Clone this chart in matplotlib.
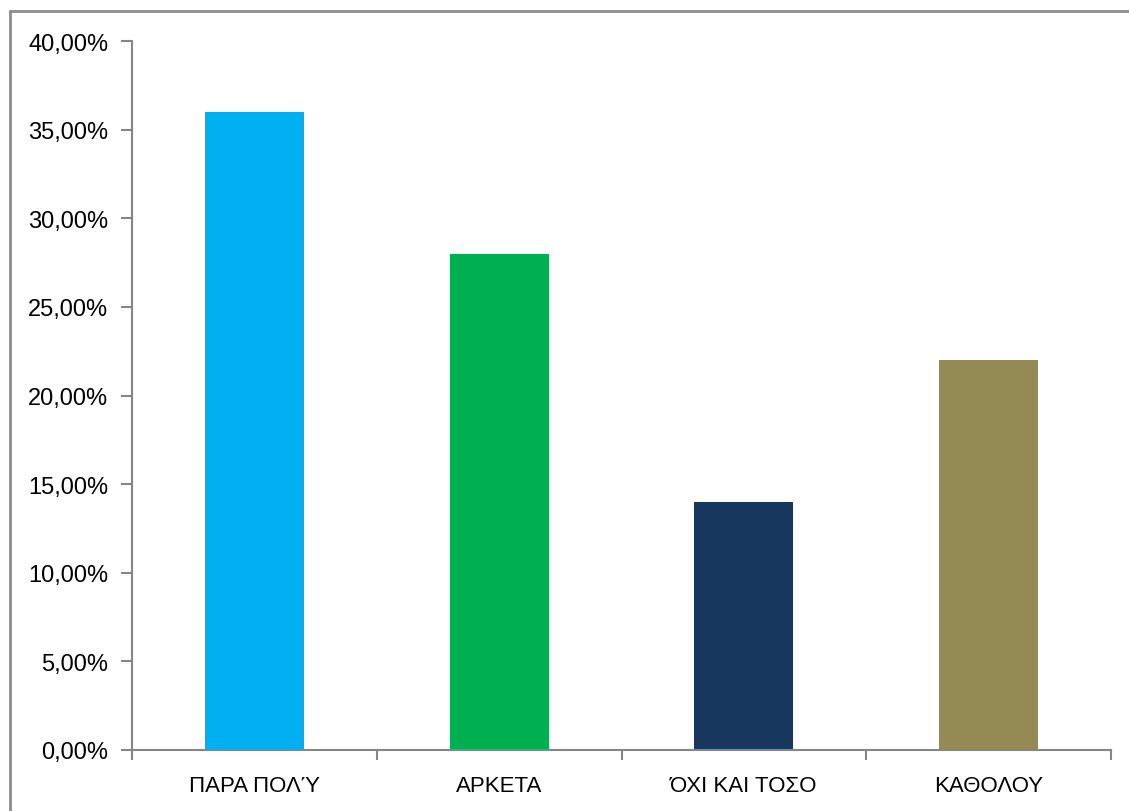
import matplotlib.pyplot as plt
from matplotlib.patches import Rectangle
from matplotlib.ticker import FuncFormatter

categories = ['ΠΑΡΑ ΠΟΛΎ', 'ΑΡΚΕΤΑ', 'ΌΧΙ ΚΑΙ ΤΟΣΟ', 'ΚΑΘΟΛΟΥ']
shares = [36.0, 28.0, 14.0, 22.0]
colors = ['#00B0F0', '#00B050', '#17375E', '#948A54']

fig = plt.figure(figsize=(11.29, 8.12), dpi=100)
ax = fig.add_axes([132/1129, 1-751/812, (1111-132)/1129, (751-42)/812])

x = range(len(categories))
ax.bar(x, shares, width=0.405, color=colors, zorder=2)

ax.set_xlim(-0.5, len(categories)-0.5)
ax.set_ylim(0, 40)
ax.set_yticks(range(0, 41, 5))
ax.yaxis.set_major_formatter(FuncFormatter(lambda v, p: f'{v:.2f}%'.replace('.', ',')))

# category labels sit between the boundary ticks
ax.set_xticks([i-0.5 for i in range(len(categories)+1)])
ax.set_xticklabels([])
ax.set_xticks(list(x), minor=True)
ax.set_xticklabels(categories, minor=True, fontsize=16, family='Liberation Sans')
ax.tick_params(axis='x', which='minor', length=0, pad=18)
ax.tick_params(axis='x', which='major', length=7, width=1.5, color='#868686')
ax.tick_params(axis='y', length=8, width=1.5, color='#868686', pad=9)
for lab in ax.get_yticklabels():
    lab.set_family(['Liberation Sans Narrow', 'Liberation Sans'])
    lab.set_fontsize(17)

for side in ['top', 'right']:
    ax.spines[side].set_visible(False)
for side in ['left', 'bottom']:
    ax.spines[side].set_color('#868686')
    ax.spines[side].set_linewidth(1.5)

# outer chart frame, cut off at the right and bottom edges
fig.patches.append(Rectangle((10/1129, -0.05), 1.1, 1-12/812+0.05, transform=fig.transFigure,
                             fill=False, edgecolor='#8c8c8c', linewidth=2))

fig.savefig('out.png', dpi=100)
